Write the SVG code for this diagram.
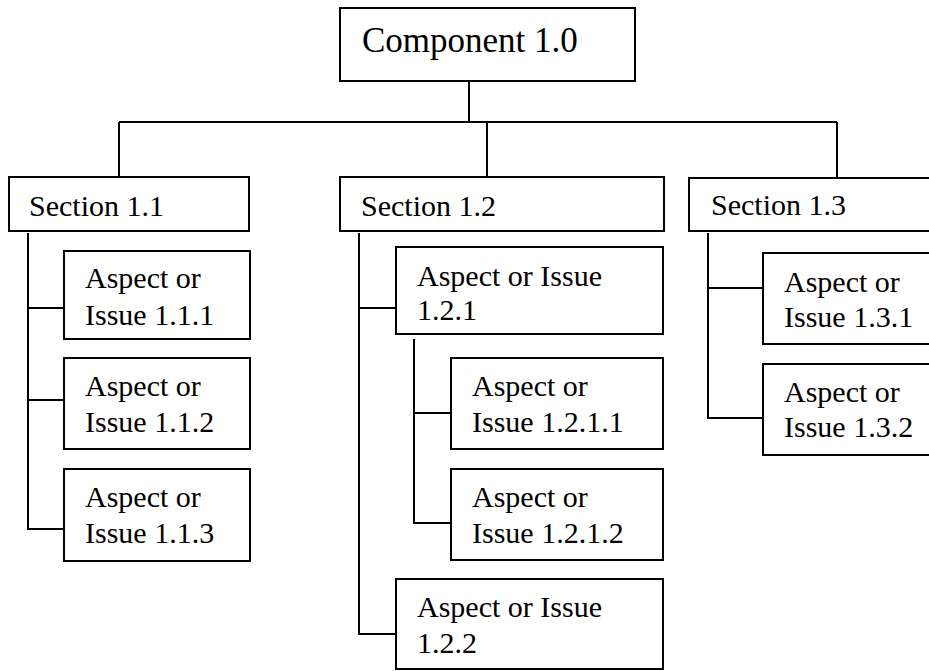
<svg xmlns="http://www.w3.org/2000/svg" width="929" height="671" viewBox="0 0 929 671">
  <style>
    .box { fill: #ffffff; stroke: #000000; stroke-width: 2; }
    .lbl { font-family: "Liberation Serif", "Times New Roman", serif; font-size: 30px; fill: #000000; }
    .title { font-size: 35px; }
    .conn { fill: none; stroke: #000000; stroke-width: 2; stroke-linecap: butt; }
  </style>
  <rect width="929" height="671" fill="#ffffff"/>

  <!-- connectors -->
  <g id="connectors" class="conn">
    <path d="M469 82 V122"/>
    <path d="M119 122 H837"/>
    <path d="M119 122 V177"/>
    <path d="M487 122 V177"/>
    <path d="M837 122 V178"/>
    <!-- Section 1.1 children -->
    <path d="M28 233 V529 H64"/>
    <path d="M28 308 H64"/>
    <path d="M28 400 H64"/>
    <!-- Section 1.2 children -->
    <path d="M359 233 V634 H396"/>
    <path d="M359 308 H396"/>
    <path d="M414 339 V523 H451"/>
    <path d="M414 413 H451"/>
    <!-- Section 1.3 children -->
    <path d="M708 233 V418 H763"/>
    <path d="M708 288 H763"/>
  </g>

  <g id="component-1-0">
    <rect class="box" x="340" y="8" width="295" height="73"/>
    <text class="lbl title" x="362" y="52">Component 1.0</text>
  </g>

  <g id="section-1-1">
    <rect class="box" x="9" y="177" width="240" height="54"/>
    <text class="lbl" x="29" y="216">Section 1.1</text>
  </g>
  <g id="aspect-1-1-1">
    <rect class="box" x="64" y="251" width="186" height="88"/>
    <text class="lbl" x="85" y="288">Aspect or</text>
    <text class="lbl" x="85" y="325">Issue 1.1.1</text>
  </g>
  <g id="aspect-1-1-2">
    <rect class="box" x="64" y="358" width="186" height="91"/>
    <text class="lbl" x="85" y="396">Aspect or</text>
    <text class="lbl" x="85" y="432">Issue 1.1.2</text>
  </g>
  <g id="aspect-1-1-3">
    <rect class="box" x="64" y="469" width="186" height="92"/>
    <text class="lbl" x="85" y="507">Aspect or</text>
    <text class="lbl" x="85" y="543">Issue 1.1.3</text>
  </g>

  <g id="section-1-2">
    <rect class="box" x="340" y="177" width="324" height="54"/>
    <text class="lbl" x="361" y="216">Section 1.2</text>
  </g>
  <g id="aspect-1-2-1">
    <rect class="box" x="396" y="247" width="267" height="87"/>
    <text class="lbl" x="417" y="286">Aspect or Issue</text>
    <text class="lbl" x="417" y="320">1.2.1</text>
  </g>
  <g id="aspect-1-2-1-1">
    <rect class="box" x="451" y="358" width="212" height="91"/>
    <text class="lbl" x="472" y="396">Aspect or</text>
    <text class="lbl" x="472" y="432">Issue 1.2.1.1</text>
  </g>
  <g id="aspect-1-2-1-2">
    <rect class="box" x="451" y="469" width="212" height="91"/>
    <text class="lbl" x="472" y="507">Aspect or</text>
    <text class="lbl" x="472" y="543">Issue 1.2.1.2</text>
  </g>
  <g id="aspect-1-2-2">
    <rect class="box" x="396" y="579" width="267" height="90"/>
    <text class="lbl" x="417" y="617">Aspect or Issue</text>
    <text class="lbl" x="417" y="653">1.2.2</text>
  </g>

  <g id="section-1-3">
    <rect class="box" x="689" y="178" width="260" height="53"/>
    <text class="lbl" x="711" y="215">Section 1.3</text>
  </g>
  <g id="aspect-1-3-1">
    <rect class="box" x="763" y="253" width="186" height="91"/>
    <text class="lbl" x="784" y="292">Aspect or</text>
    <text class="lbl" x="784" y="327">Issue 1.3.1</text>
  </g>
  <g id="aspect-1-3-2">
    <rect class="box" x="763" y="364" width="186" height="91"/>
    <text class="lbl" x="784" y="402">Aspect or</text>
    <text class="lbl" x="784" y="437">Issue 1.3.2</text>
  </g>
</svg>
